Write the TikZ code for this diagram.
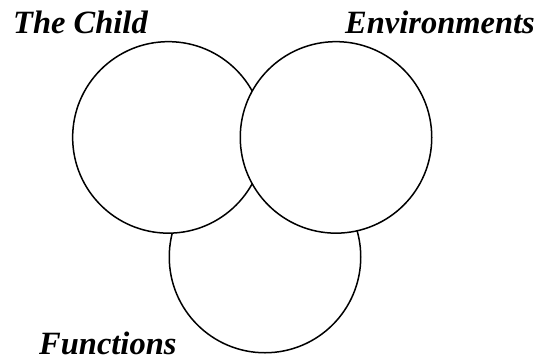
\documentclass[tikz,border=0pt]{standalone}
\usepackage{fontspec}
\setmainfont{Liberation Serif}
\begin{document}
\begin{tikzpicture}[x=1pt,y=-1pt,
  ring/.style={circle, draw=black, fill=white, line width=1.5pt, minimum size=191.5pt, inner sep=0pt},
  lab/.style={inner sep=0pt, text depth=0pt, font=\fontsize{32.5}{32.5}\selectfont\bfseries\itshape}]
\useasboundingbox[fill=white] (0,0) rectangle (541,360);
\node[ring] (func) at (265,257) {};
\node[ring] (child) at (168.4,137.4) {};
\node[ring] (env) at (336,137.4) {};
\node[lab, anchor=base west] (childlab) at (13,33) {The Child};
\node[lab, anchor=base east] (envlab) at (535,33) {Environments};
\node[lab, anchor=base west] (funclab) at (39,354) {Functions};
\end{tikzpicture}
\end{document}
